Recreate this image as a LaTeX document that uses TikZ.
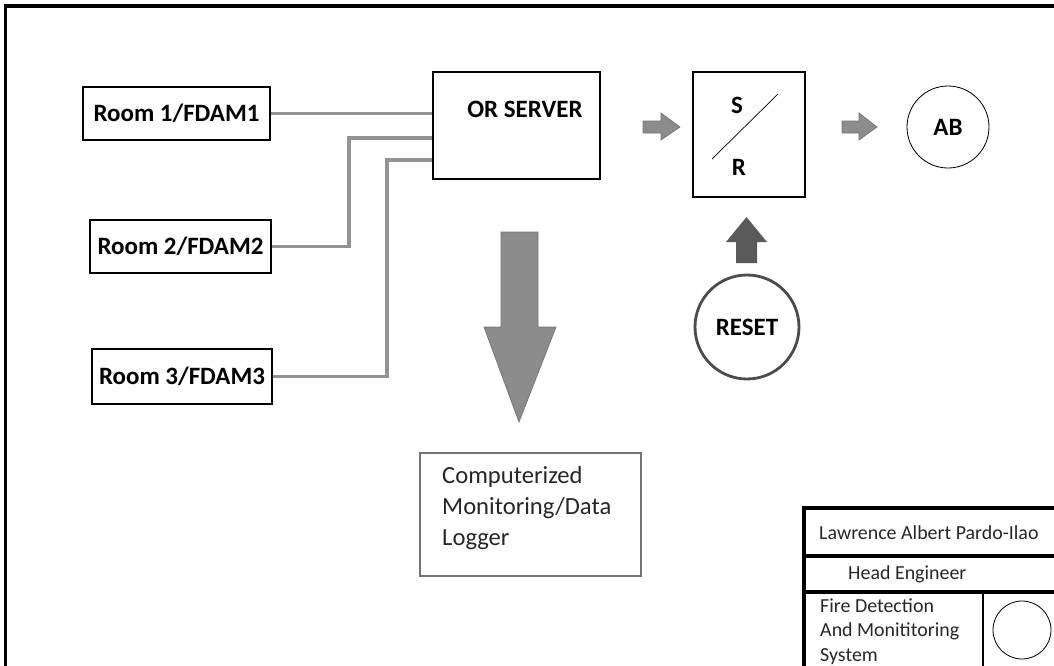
\documentclass[tikz,border=0pt]{standalone}
\usepackage{fontspec}
\setmainfont{Carlito}
\usepackage{tikz}
\usetikzlibrary{calc}
\newcommand{\pxu}{0.03cm}
\tikzset{bx/.style={draw=black,line width=0.9pt,inner sep=0pt,font=\fontsize{21.3}{26}\selectfont\bfseries}}
\tikzset{wire/.style={draw=gray!85!white,line width=2.6pt}}
\tikzset{blk/.style={fill=gray!90,draw=gray!110,line width=0.6pt}}
\tikzset{tb/.style={line width=2.6pt}}
\tikzset{t/.style={font=\fontsize{17}{21.3}\selectfont,text=black!85,inner sep=0pt}}

\begin{document}
\begin{tikzpicture}[x=\pxu,y=-\pxu]
        \useasboundingbox (0,0) rectangle (1054,666);
        \clip (0,0) rectangle (1054,666);
        \draw[line width=3.4pt] (5.5,6) rectangle (1080,700);
        % inputs
        \node[bx,minimum width=187*\pxu,minimum height=53*\pxu] (room1) at (176.5,113.5) {Room 1/FDAM1};
        \node[bx,minimum width=181*\pxu,minimum height=53*\pxu] (room2) at (180.5,246.5) {Room 2/FDAM2};
        \node[bx,minimum width=180*\pxu,minimum height=55*\pxu] (room3) at (182,376.5) {Room 3/FDAM3};
        \node[bx,minimum width=167*\pxu,minimum height=107*\pxu] (server) at (516.5,125.5) {};
        \node[bx,draw=none] (srvtxt) at (525,109) {OR SERVER};
        \coordinate (j2) at (349,138);
        \coordinate (j3) at (387,160);
        \draw[wire] (room1.east) -- (room1.east -| server.west);
        \draw[wire] (room2.east) -| (j2) -- (j2 -| server.west);
        \draw[wire] (room3.east) -| (j3) -- (j3 -| server.west);
        % latch and alarm
        \node[bx,minimum width=112*\pxu,minimum height=125*\pxu] (latch) at (749,134.5) {};
        \node[bx,draw=none] (s) at (737,105) {S};
        \node[bx,draw=none] (r) at (739,167) {R};
        \draw[line width=0.6pt] (712,159) -- (778,94);
        \node[bx,circle,line width=0.7pt,minimum size=82*\pxu] (alarm) at (948,127) {AB};
        \node[bx,circle,draw=black!70,line width=2.4pt,minimum size=104*\pxu] (reset) at (747,327) {RESET};
        \fill[blk] (643,121) -- (661,121) -- (661,113) -- (680,127) -- (661,140) -- (661,133) -- (643,133) -- cycle;
        \fill[blk] (842,121) -- (859,121) -- (859,113) -- (877,127) -- (859,140) -- (859,133) -- (842,133) -- cycle;
        \fill[fill=black!65] (736,263) -- (736,242) -- (726,242) -- (746.5,217) -- (767,242) -- (757,242) -- (757,263) -- cycle;
        % logger
        \fill[blk] (501,232) -- (538,232) -- (538,327) -- (556,327) -- (519,422) -- (484,327) -- (501,327) -- cycle;
        \node[draw=black!55,line width=0.9pt,minimum width=221*\pxu,minimum height=123*\pxu,inner sep=0pt] (logger) at (530.5,514.5) {};
        \node[anchor=north west,align=left,inner sep=0pt,font=\fontsize{21}{26.4}\selectfont,text=black!85] (logtxt) at (442,466) {Computerized\\Monitoring/Data\\Logger};
        % title block
        \draw[tb] (1080,508) -| (804,700);
        \draw[tb] (804,556) -- (1080,556);
        \draw[tb] (804,592) -- (1080,592);
        \draw[line width=1.2pt] (983,592) -- (983,700);
        \node[t,anchor=west] (name) at (819,533) {Lawrence Albert Pardo-Ilao};
        \node[t,anchor=west] (role) at (848,574) {Head Engineer};
        \node[t,anchor=north west,align=left] (title) at (820,598) {Fire Detection\\And Monititoring\\System};
        \node[draw,circle,line width=0.7pt,minimum size=58*\pxu,inner sep=0pt] (seal) at (1022,630) {};
      \end{tikzpicture}
\end{document}
